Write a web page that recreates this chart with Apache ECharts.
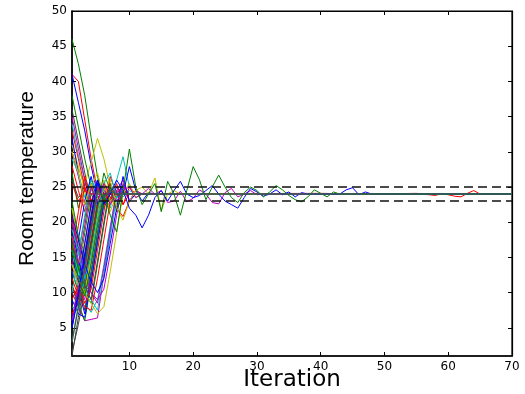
<!DOCTYPE html>
<html>
<head>
<meta charset="utf-8">
<script src="https://cdn.jsdelivr.net/npm/echarts@6/dist/echarts.min.js"></script>
<style>
  html, body { margin: 0; padding: 0; background: #fff; }
  #chart { width: 525px; height: 394px; }
</style>
</head>
<body>
<div id="chart"></div>
<script>
// axis ranges and tick labels
var xMin = 1, xMax = 70;
var yMin = 1, yMax = 50;
var xTicks = [10, 20, 30, 40, 50, 60, 70];
var yTicks = [5, 10, 15, 20, 25, 30, 35, 40, 45, 50];

// target band (dashed) around the set point
var bounds = [23, 25];

// runs: room temperature per iteration, starting at iteration 1
// (each run then holds its last value to the end)
var fallingRuns = [
    [46, 42.5, 38, 32, 26.5, 23, 24.8, 24],
    [41, 40, 34.5, 29, 24.5, 22.5, 24.6, 23.5, 24.3, 24],
    [41, 37, 33, 28, 24, 23.5, 24.3, 24],
    [36, 31.5, 27, 23, 24.5, 24],
    [31, 28, 24.5, 21, 25.5, 23, 24.5, 24],
    [30, 27.5, 25.5, 28.5, 31.9, 29, 25, 22.5, 24.5, 24],
    [30, 26.5, 22.5, 25, 23.5, 24.5, 24],
    [34, 29.5, 26, 22.5, 25, 24],
    [27, 22, 25.5, 24, 22.5, 24.5, 24],
    [32, 27, 22.5, 24.5, 25.5, 23, 24],
    [28, 24.5, 21.5, 25.5, 23.5, 24],
    [26, 23.5, 24.5, 24],
    [35, 30.5, 26, 22, 25.5, 24],
    [29, 27, 23.5, 26, 24.5, 23, 24],
    [33, 29, 25, 22, 24.5, 24],
    [38, 33.5, 29, 25, 22.5, 24, 24]
];
var fallingColors = ['g', 'r', 'b', 'k', 'y', 'y', 'm', 'c', 'g', 'b', 'r', 'k', 'm', 'c', 'r', 'g'];

var risingRuns = [
    [1, 6.5, 12, 17.5, 23, 25, 24],
    [1.5, 5.5, 10.5, 16, 21.5, 25.5, 23.5, 24],
    [6, 10.5, 7, 12.5, 18, 23.5, 24.8, 24],
    [11, 8, 6, 6.2, 6.4, 12.5, 18.5, 24, 25.3, 24],
    [13, 10.5, 8.5, 7.2, 9, 14, 19.5, 24.5, 23.6, 24.5, 24],
    [11, 8.5, 6, 11.5, 17.5, 23, 25.5, 24],
    [11, 9, 14.5, 20, 25.5, 23.5, 24],
    [9, 7, 6.5, 11.5, 17, 22.5, 25, 24],
    [15, 12, 10, 15.5, 21, 26, 23, 24.5, 24],
    [18, 13, 18.5, 24, 24.8, 24],
    [14, 19.5, 25, 23, 24.5, 24],
    [16, 12.5, 9.5, 13, 18.5, 24, 22, 26, 29.3, 25, 23.5, 24],
    [20, 16, 11, 10, 8.5, 13.5, 19, 24.5, 26, 23, 24],
    [22, 17, 13, 18.5, 24, 25, 24],
    [17, 12, 7.5, 13, 18.5, 24, 24.5, 24],
    [19, 14.5, 12, 17, 22.5, 24.5, 23, 25, 24, 27.9, 24.5, 23, 24.2, 24],
    [21, 16, 12.5, 17.5, 23, 25.5, 23.5, 22, 20.8, 23, 24.5, 24],
    [13, 10, 15.5, 21, 26, 24],
    [8, 7.5, 13, 18.5, 24, 23.5, 24],
    [6, 11.5, 17, 22.5, 25, 24],
    [22, 18, 16, 21.5, 26, 24.5, 21.5, 24, 24],
    [16, 21.5, 26.5, 23, 25, 24],
    [12, 17.5, 23, 26.5, 22.5, 24],
    [20, 15.5, 20.5, 25.5, 23, 24],
    [23, 18, 14.5, 20, 25.5, 22, 24],
    [18, 14, 19.5, 25, 27, 23.5, 24],
    [14, 11, 9, 14.5, 20, 25, 22.5, 24.5, 24],
    [10, 15.5, 21, 26, 24],
    [7, 8.5, 14, 19.5, 25, 23, 24],
    [15, 11.5, 17, 22.5, 26, 24],
    [18, 14, 10, 8.5, 14, 19.5, 25, 23.5, 24.5, 24],
    [12, 9.5, 8, 7.5, 12, 17.5, 23, 25.5, 22.5, 24],
    [16, 13, 10.5, 9, 7.5, 12.5, 18, 23.5, 25, 24],
    [20, 16.5, 13, 10, 9, 10.5, 15.5, 21, 25.5, 23, 24.5, 24],
    [14, 11, 9.5, 15, 20.5, 25.5, 23, 24],
    [10, 8, 11, 9, 14.5, 20, 25.5, 21.5, 24.5, 24],
    [5, 9.5, 15, 20.5, 25.5, 24],
    [17, 13.5, 11, 16.5, 22, 27, 24.5, 22, 24],
    [9, 11, 8.5, 10.5, 16, 21.5, 26.5, 24, 22.5, 25, 24],
    [19, 16, 12, 15, 20.5, 25.5, 27, 23.5, 24],
    [14, 12, 10, 8.5, 7, 8, 13, 18.5, 24, 25.5, 23.5, 24],
    [21, 17.5, 14, 11.5, 10, 12, 17, 22, 26.5, 23, 24]
];
var risingColors = ['k', 'k', 'b', 'm', 'c', 'g', 'r', 'b', 'y', 'g', 'r', 'c', 'm', 'y', 'k',
                    'b', 'r', 'g', 'c', 'm', 'y', 'r', 'b', 'k', 'g', 'y', 'm', 'c', 'r', 'b',
                    'g', 'r', 'c', 'm', 'y', 'k', 'b', 'g', 'r', 'c', 'y', 'b'];

// runs that keep oscillating well past the bulk
var lateRed = [[1, 25.5], [2, 23], [3, 24.5], [4, 24], [40, 24.1], [48, 24], [55, 24.1],
               [58, 23.8], [59, 24.1], [61, 23.7], [62, 23.6], [63, 24.1], [64, 24.5], [65, 24], [70, 24]];
var longYellow = [30, 27, 22.5, 25.5, 23, 24.5, 26, 22, 20.3, 23, 24.5, 25, 24, 26.3, 21.7, 24, 24.5, 24];
var longMagenta = [18, 14, 19.5, 25, 23, 25.5, 24, 23, 24.5, 25, 23.5, 24, 24.8, 24, 24.5, 22.8,
                   23, 24.4, 22.9, 23.4, 24.6, 24, 22.8, 22.6, 24.2, 24.8, 23.6, 24, 24.5, 23.9, 24];
var longBlue = [5, 10, 15.5, 21, 26, 22.5, 24, 26, 24.5, 22, 21, 19.2, 21, 23.5, 24.5, 23, 24.5, 25.8,
                24, 23.5, 23.8, 24.5, 25.2, 24, 23, 22.5, 22, 23.5, 24.8, 24.3, 23.7, 24, 24.6, 23.9,
                24.3, 23.6, 24.2, 24, 24, 24, 24, 24, 24, 24.6, 24.9, 23.9, 24.3, 24];
var longGreen = [16, 12, 9.5, 14, 19.5, 24, 21, 18.6, 24.5, 30.4, 25, 22.5, 24, 25.5, 21.5, 25.8,
                 24, 21, 24.5, 27.9, 26, 23.2, 25, 26.7, 25, 23.5, 22.8, 24.2, 25, 24.5, 23.6, 24.3,
                 25.2, 24.6, 23.8, 23.2, 22.9, 23.6, 24.6, 24.1, 23.6, 24.3, 24];
var lastGray = [3, 8, 13.5, 19, 24.5, 23.5, 24.5, 24];

var palette = {
    b: '#0000ff', g: '#008000', r: '#ff0000', c: '#00bfbf',
    m: '#bf00bf', y: '#bfbf00', k: '#404040'
};

function toPoints(vals) {
    var pts = vals.map(function (v, i) { return [i + 1, v]; });
    pts.push([xMax, vals[vals.length - 1]]);
    return pts;
}

function lineSeries(points, color, width) {
    return {
        type: 'line',
        data: points,
        showSymbol: false,
        symbol: 'none',
        silent: true,
        animation: false,
        lineStyle: { color: color, width: width || 1 },
        z: 2
    };
}

var series = [];
fallingRuns.forEach(function (r, i) { series.push(lineSeries(toPoints(r), palette[fallingColors[i]])); });
risingRuns.forEach(function (r, i) { series.push(lineSeries(toPoints(r), palette[risingColors[i]])); });
series.push(lineSeries(lateRed, palette.r));
series.push(lineSeries(toPoints(longYellow), palette.y));
series.push(lineSeries(toPoints(longMagenta), palette.m));
series.push(lineSeries(toPoints(longBlue), palette.b));
series.push(lineSeries(toPoints(longGreen), palette.g));
series.push(lineSeries(toPoints(lastGray), '#2f5f55', 1.5));

// dashed band limits
bounds.forEach(function (b) {
    series.push({
        type: 'line',
        data: [[xMin, b], [xMax, b]],
        symbol: 'none',
        silent: true,
        animation: false,
        lineStyle: { color: '#111', width: 1.5, type: [9, 5] },
        z: 5
    });
});

var tickFont = { color: '#000', fontSize: 12, fontFamily: 'DejaVu Sans' };

var myChart = echarts.init(document.getElementById('chart'), null, { renderer: 'canvas' });

var option = {
    backgroundColor: '#fff',
    animation: false,
    grid: {
        left: 72, right: 13, top: 11, bottom: 38,
        outerBoundsMode: 'none',
        containLabel: false,
        show: true, borderColor: '#000', borderWidth: 1.2, backgroundColor: 'transparent'
    },
    xAxis: [{
        type: 'value', min: xMin, max: xMax, position: 'bottom',
        axisLine: { show: true, lineStyle: { color: '#000', width: 1.5 } },
        axisTick: { show: true, inside: true, length: 4, customValues: xTicks, lineStyle: { color: '#000' } },
        axisLabel: Object.assign({ customValues: xTicks, margin: 5 }, tickFont),
        splitLine: { show: false },
        name: 'Iteration',
        nameLocation: 'middle',
        nameGap: 13,
        nameMoveOverlap: false,
        nameTextStyle: { color: '#000', fontSize: 23, fontFamily: 'DejaVu Sans', verticalAlign: 'top' }
    }, {
        type: 'value', min: xMin, max: xMax, position: 'top',
        axisLine: { show: true, lineStyle: { color: '#000', width: 1.2 } },
        axisTick: { show: true, inside: true, length: 4, customValues: xTicks, lineStyle: { color: '#000' } },
        axisLabel: { show: false },
        splitLine: { show: false }
    }],
    yAxis: [{
        type: 'value', min: yMin, max: yMax, position: 'left',
        axisLine: { show: true, lineStyle: { color: '#000', width: 1.5 } },
        axisTick: { show: true, inside: true, length: 4, customValues: yTicks, lineStyle: { color: '#000' } },
        axisLabel: Object.assign({ customValues: yTicks, margin: 5 }, tickFont),
        splitLine: { show: false },
        name: 'Room temperature',
        nameLocation: 'middle',
        nameGap: 34,
        nameMoveOverlap: false,
        nameTextStyle: { color: '#000', fontSize: 21, fontFamily: 'Liberation Sans', padding: [0, 0, 0, 10] }
    }, {
        type: 'value', min: yMin, max: yMax, position: 'right',
        axisLine: { show: true, lineStyle: { color: '#000', width: 1.2 } },
        axisTick: { show: true, inside: true, length: 4, customValues: yTicks, lineStyle: { color: '#000' } },
        axisLabel: { show: false },
        splitLine: { show: false }
    }],
    series: series
};

myChart.setOption(option);
</script>
</body>
</html>
